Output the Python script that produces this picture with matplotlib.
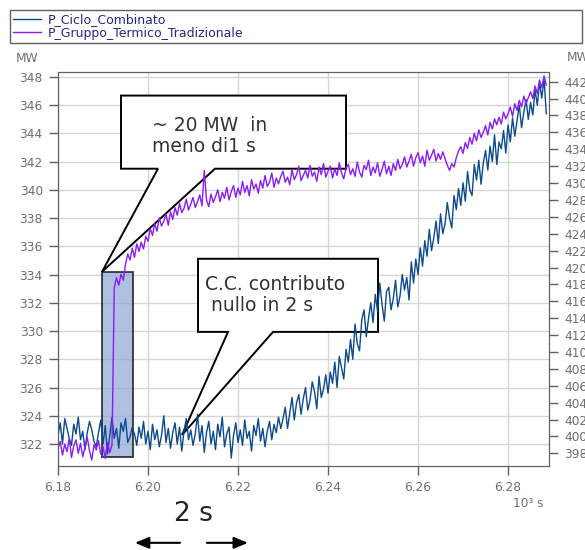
import numpy as np
import matplotlib
matplotlib.use('Agg')
from matplotlib import pyplot as plt
from matplotlib.patches import Polygon, Rectangle

plt.rcParams['font.family'] = ['DejaVu Sans']

# time axis in 10^3 s, one sample every 0.5 s
T0 = 6.18
DT = 0.0005

series_names = ['P_Ciclo_Combinato', 'P_Gruppo_Termico_Tradizionale']

# P_Ciclo_Combinato, MW (left axis)
p_ciclo = [
    322.6, 323.5, 322.0, 323.8, 323.1, 322.4, 321.9, 323.4, 322.7, 323.9,
    322.3, 322.9, 321.6, 322.8, 323.6, 323.0, 322.2, 321.8, 322.8, 323.7,
    322.0, 323.3, 321.3, 322.6, 323.9, 322.4, 323.1, 321.7, 323.5, 322.9,
    323.8, 322.1, 322.5, 323.2, 322.7, 321.9, 323.2, 322.4, 323.6, 322.0,
    322.9, 321.6, 323.4, 322.3, 323.0, 321.8, 322.6, 324.0, 322.1, 323.1,
    321.7, 322.8, 323.5, 322.0, 323.2, 321.5, 322.9, 323.8, 322.3, 323.0,
    321.9, 322.7, 324.1, 322.2, 323.3, 321.4, 322.8, 323.6, 322.0, 322.9,
    321.6, 323.4, 322.5, 323.9, 321.8, 322.7, 323.2, 321.0, 322.6, 323.5,
    322.1, 323.0, 321.9, 323.7, 322.4, 322.9, 321.5, 323.3, 322.6, 323.8,
    322.2, 323.1, 321.8, 322.9, 323.6, 322.3, 323.4, 322.8, 323.9, 323.1,
    323.8, 324.6, 323.1, 324.2, 325.3, 323.7, 324.9, 325.5, 324.1, 325.2,
    326.0, 324.4, 325.1, 326.4, 325.7, 324.5, 326.8, 325.3, 325.9, 326.9,
    325.6, 327.1, 326.3, 327.8, 326.0, 328.2, 327.4, 326.6, 328.7, 327.8,
    329.4, 328.0, 330.5, 329.1, 328.6, 330.8, 331.5, 329.6, 330.9, 332.0,
    330.6, 332.6, 331.4, 333.4, 331.9, 330.7, 332.8, 333.1, 331.5, 332.3,
    333.6, 331.7, 332.5, 334.0, 332.9, 333.8, 332.2, 334.9, 333.4, 335.1,
    334.0, 335.9, 334.6, 336.4, 335.3, 337.2, 335.7, 336.6, 337.8, 336.2,
    338.3, 336.9, 337.6, 339.1, 338.0, 337.3, 339.6, 338.6, 340.1, 338.9,
    340.5, 339.2, 341.3, 340.0, 339.6, 341.8, 340.7, 342.1, 340.4, 341.9,
    342.8, 341.4, 343.1, 342.0, 343.9, 341.8, 343.4, 342.9, 344.2, 342.6,
    344.6, 343.4, 345.1, 343.8, 344.9, 346.0, 344.4, 345.5, 346.4, 345.0,
    346.2, 345.3, 347.1, 346.0, 347.6, 346.5, 347.9, 345.4,
]

# P_Gruppo_Termico_Tradizionale, MW (right axis)
p_gruppo = [
    398.6, 399.4, 397.8, 399.1, 398.2, 399.8, 397.5, 398.9, 399.6, 398.0,
    399.2, 397.6, 398.7, 399.9, 398.3, 397.2, 399.0, 398.4, 399.5, 397.9,
    398.8, 397.4, 399.3, 398.1, 399.0, 417.6, 418.8, 417.9, 419.2, 418.5,
    420.4, 421.6, 420.9, 422.3, 421.2, 422.8, 421.9, 423.0, 422.2, 423.7,
    423.1, 424.6, 423.8, 425.2, 424.3, 425.9, 424.9, 425.5, 426.3, 425.0,
    426.6, 425.7, 427.1, 426.2, 427.6, 426.5, 427.0, 428.1, 426.8, 427.5,
    428.3, 427.1, 427.8, 428.6, 427.3, 431.5, 428.0, 427.2, 428.7, 427.7,
    428.4, 429.2, 427.8, 428.9, 428.2, 429.5, 428.0, 429.0, 429.7, 428.3,
    429.4, 428.6, 430.2, 428.9, 429.7, 428.5, 430.4, 429.3, 429.9, 428.8,
    430.3, 429.4, 430.9, 429.6, 430.1, 431.2, 429.5, 430.6, 429.9, 430.8,
    431.4, 430.1, 430.7, 429.8, 431.6, 430.4, 431.0, 432.0, 430.3, 430.9,
    431.5, 430.6, 432.1, 430.8, 431.3, 430.2, 431.9, 431.0, 432.3, 430.7,
    431.4, 432.0, 430.6, 431.7, 430.9, 432.4, 431.2, 430.5, 431.8, 432.2,
    431.0, 431.7, 430.8, 432.5, 431.3, 430.7, 432.1, 431.6, 432.7, 430.9,
    431.9, 431.2, 432.4, 430.8, 431.6, 432.6, 431.1, 432.0, 430.9, 432.3,
    431.5, 432.8, 431.7, 432.2, 433.1, 431.9, 432.6, 433.4, 432.0, 433.0,
    433.6, 432.4, 433.2, 432.0, 433.9, 432.7, 433.3, 434.0, 432.6, 433.5,
    432.8, 433.7, 432.9, 432.1, 431.5, 432.3, 431.9, 433.0, 433.8, 434.3,
    433.5, 434.8, 434.1, 435.4, 434.6, 435.9, 435.0, 436.3, 435.4, 436.0,
    436.8, 435.7, 437.2, 436.4, 437.6, 436.9, 437.8, 437.0, 438.4, 437.6,
    438.2, 439.0, 437.9, 439.4, 438.6, 439.8, 439.0, 440.3, 439.4, 440.1,
    440.8, 440.0, 441.5, 440.6, 442.2, 441.3, 442.7, 441.6,
]

x_ticks = [6.18, 6.20, 6.22, 6.24, 6.26, 6.28]
left_ticks = list(range(322, 349, 2))
right_ticks = list(range(398, 443, 2))

BLUE = '#0d4a8c'
PURPLE = '#8a1cf5'
GRAY = '#6e6e6e'


def callout(ax, box, base, tip, text, text_pos):
    x0, x1, y0, y1 = box
    b0, b1 = base
    pts = [(x0, y1), (x1, y1), (x1, y0), (b1, y0), tip, (b0, y0), (x0, y0)]
    ax.add_patch(Polygon(pts, closed=True, facecolor='white', edgecolor='black',
                         lw=1.4, zorder=3))
    ax.text(text_pos[0], text_pos[1], text, fontsize=13.5, color='#333333',
            ha='left', va='center', linespacing=1.15, zorder=3.5)


def main():
    fig = plt.figure(figsize=(5.85, 5.5), dpi=100)
    ax = fig.add_axes([58 / 585, 84 / 550, 491 / 585, 394 / 550])
    ax2 = ax.twinx()

    t = T0 + DT * np.arange(len(p_ciclo))
    l1, = ax.plot(t, p_ciclo, color=BLUE, lw=1.0, zorder=4, label=series_names[0])
    l2, = ax2.plot(t, p_gruppo, color=PURPLE, lw=1.0, label=series_names[1])

    ax.set_xlim(6.18, 6.2891)
    ax.set_ylim(320.44, 348.35)
    ax2.set_ylim(396.5, 443.15)
    ax.set_xticks(x_ticks)
    ax.set_xticklabels(['%.2f' % v for v in x_ticks])
    ax.set_yticks(left_ticks)
    ax2.set_yticks(right_ticks)

    ax.grid(True, color='#d6d6d6', lw=1.0)
    ax.set_axisbelow(True)
    for a in (ax, ax2):
        for s in a.spines.values():
            s.set_color('#606060')
        a.tick_params(direction='out', length=6.5, width=1, color='#606060',
                      labelcolor=GRAY, labelsize=8.7, pad=4.5)

    # highlighted window on the step
    ax.add_patch(Rectangle((6.1897, 321.08), 0.0070, 13.12, facecolor='#8fa6d8',
                           alpha=0.7, edgecolor='black', lw=1.4, zorder=2.5))

    callout(ax, (6.1940, 6.2440, 341.50, 346.68), (6.20222, 6.21489),
            (6.18978, 334.2), '~ 20 MW  in\nmeno di1 s', (6.2009, 343.84))
    callout(ax, (6.21111, 6.25111, 329.94, 335.12), (6.21778, 6.22778),
            (6.20756, 322.64), 'C.C. contributo\n nullo in 2 s', (6.21267, 332.57))

    ax.text(-0.063, 1.034, 'MW', transform=ax.transAxes, ha='center', va='center',
            fontsize=8.7, color=GRAY)
    ax.text(1.037, 1.036, 'MW', transform=ax.transAxes, ha='left', va='center',
            fontsize=8.7, color=GRAY)
    ax.text(0.957, -0.094, '10³ s', transform=ax.transAxes, ha='center', va='center',
            fontsize=8.7, color=GRAY)

    # 2 s scale marker under the axis
    ax.text(6.2100, -0.123, '2 s', transform=ax.get_xaxis_transform(), ha='center',
            va='center', fontsize=19, color='#222222')
    arrow = dict(arrowstyle='-|>,head_length=0.6,head_width=0.25', mutation_scale=14,
                 lw=1.5, color='black', shrinkA=0, shrinkB=0)
    ax.annotate('', xy=(6.1971, -0.195), xytext=(6.2071, -0.195),
                xycoords=('data', 'axes fraction'), textcoords=('data', 'axes fraction'),
                arrowprops=arrow, annotation_clip=False)
    ax.annotate('', xy=(6.2222, -0.195), xytext=(6.2131, -0.195),
                xycoords=('data', 'axes fraction'), textcoords=('data', 'axes fraction'),
                arrowprops=arrow, annotation_clip=False)

    fig.legend([l1, l2], series_names, loc='upper left',
               bbox_to_anchor=(10 / 585, 1 - 10 / 550, 572 / 585, 0),
               bbox_transform=fig.transFigure, mode='expand', fancybox=False,
               edgecolor='#606060', framealpha=1, fontsize=9, handlelength=2.2,
               handletextpad=0.6, labelspacing=0.05, borderpad=0.25,
               borderaxespad=0, labelcolor='#26268a')

    fig.savefig('out.png', dpi=100)


if __name__ == '__main__':
    main()
